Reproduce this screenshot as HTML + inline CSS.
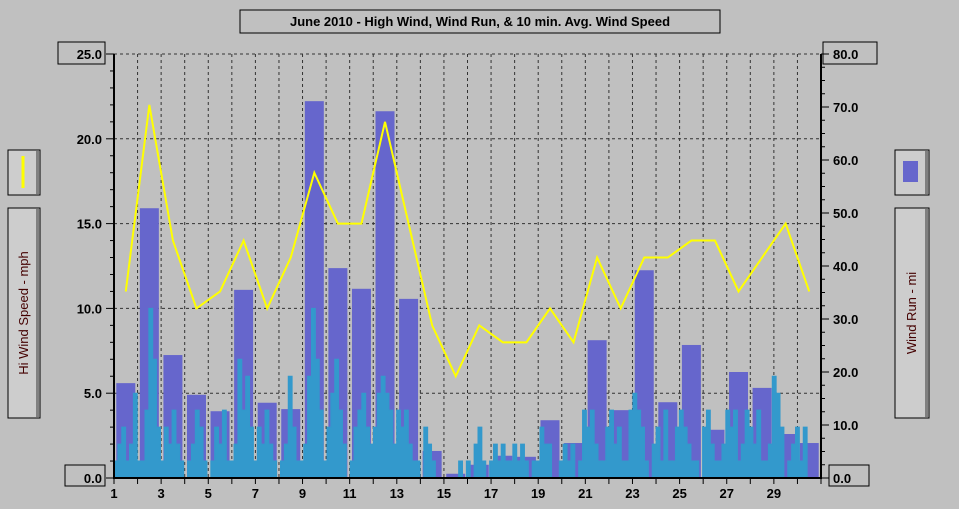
<!DOCTYPE html>
<html><head><meta charset="utf-8"><style>
body{margin:0;background:#c0c0c0;}
svg{display:block;font-family:"Liberation Sans",sans-serif;}
</style></head><body>
<svg id="c" width="959" height="509" xmlns="http://www.w3.org/2000/svg">
<rect width="959" height="509" fill="#c0c0c0"/>
<rect x="240" y="10" width="480" height="23" fill="none" stroke="#000"/>
<text x="480" y="26" text-anchor="middle" font-size="13" font-weight="bold">June 2010 - High Wind, Wind Run, &amp; 10 min. Avg. Wind Speed</text>
<g>
<rect x="8" y="150" width="32" height="45" fill="#cdcdcd" stroke="#000"/><rect x="36" y="151" width="3" height="43" fill="#808080"/>
<line x1="23" y1="156" x2="23" y2="188" stroke="#ff0" stroke-width="3"/>
<rect x="8" y="208" width="32" height="210" fill="#cdcdcd" stroke="#000"/><rect x="36" y="209" width="3" height="208" fill="#808080"/>
<text transform="translate(28,313) rotate(-90)" text-anchor="middle" font-size="13" fill="#400">Hi Wind Speed - mph</text>
</g>
<g>
<rect x="895" y="150" width="34" height="45" fill="#cdcdcd" stroke="#000"/><rect x="925" y="151" width="3" height="43" fill="#808080"/>
<rect x="903" y="161" width="15" height="21" fill="#6666cc"/>
<rect x="895" y="208" width="34" height="210" fill="#cdcdcd" stroke="#000"/><rect x="925" y="209" width="3" height="208" fill="#808080"/>
<text transform="translate(916,313) rotate(-90)" text-anchor="middle" font-size="13" fill="#400">Wind Run - mi</text>
</g>
<rect x="58" y="42" width="47" height="22" fill="none" stroke="#000"/>
<rect x="65" y="465" width="40" height="21" fill="none" stroke="#000"/>
<rect x="823" y="42" width="54" height="22" fill="none" stroke="#000"/>
<rect x="829" y="465" width="40" height="21" fill="none" stroke="#000"/>
<g id="grid"></g><g id="bars"></g><g id="avg"></g><g id="hi"></g><g id="axes"></g>
</svg>
<script>
const days=[1,2,3,4,5,6,7,8,9,10,11,12,13,14,15,16,17,18,19,20,21,22,23,24,25,26,27,28,29,30];
const windRun=[17.9,50.9,23.2,15.7,12.6,35.5,14.2,13.0,71.1,39.6,35.7,69.2,33.8,5.1,0.8,2.5,4.2,4.0,10.9,6.6,26.0,12.8,39.2,14.3,25.1,9.1,20.0,17.0,8.3,6.6];
const hiWind=[11,22,14,10,11,14,10,13,18,15,15,21,15,9,6,9,8,8,10,8,13,10,13,13,14,14,11,13,15,11];
const avgWind=[1,2,3,1,2,5, 1,1,4,10,7,3, 1,3,2,4,2,1, 0,1,2,4,3,1, 0,1,3,2,4,1, 1,2,7,4,6,3, 1,3,2,4,2,1, 0,1,2,6,3,1, 1,2,6,10,7,4, 1,3,5,7,4,2, 0,1,3,4,5,3, 2,3,5,6,5,4, 2,4,3,4,2,1, 1,0,3,2,1,0, 0,0,0,0,0,1, 0,1,0,2,3,1, 0,1,2,1,2,1, 1,2,1,2,1,0, 1,1,3,2,2,0, 0,1,2,1,2,0, 1,4,3,4,2,1, 1,3,4,2,3,1, 1,4,5,4,3,1, 0,2,3,1,4,1, 1,3,4,3,2,1, 1,0,3,4,2,1, 1,2,4,3,4,1, 2,4,3,2,4,1, 1,2,6,5,3,0, 1,2,3,1,3,0];
const leftTicks=["0.0","5.0","10.0","15.0","20.0","25.0"];
const rightTicks=["0.0","10.0","20.0","30.0","40.0","50.0","60.0","70.0","80.0"];
const X0=114,X1=821,Y0=478,Y1=54;
const xs=d=>X0+(d-1)*(X1-X0)/30;
const yL=v=>Y0-v*(Y0-Y1)/25;
const yR=v=>Y0-v*(Y0-Y1)/80;
const NS="http://www.w3.org/2000/svg";
function mk(t,a,p){const e=document.createElementNS(NS,t);for(const k in a)e.setAttribute(k,a[k]);document.getElementById(p).appendChild(e);return e;}
for(let d=2;d<=30;d++){const g=mk('line',{x1:xs(d),x2:xs(d),y1:Y1,y2:Y0,stroke:'#333','stroke-dasharray':'3,3'},'grid');

}
leftTicks.forEach((t,i)=>{if(i>0){const g=mk('line',{x1:X0,x2:X1,y1:yL(+t),y2:yL(+t),stroke:'#333','stroke-dasharray':'3,3'},'grid');

}});
windRun.forEach((v,i)=>{const c=xs(days[i])+(X1-X0)/60;const b=mk('rect',{x:c-9.5,y:yR(v),width:19,height:Y0-yR(v),fill:'#6666cc'},'bars');

});
let n=avgWind.length,dx=(X1-X0-10)/n,p='M'+X0+','+Y0;
avgWind.forEach((v,i)=>{const x=X0+i*dx;p+=' L'+x+','+yL(v)+' L'+(x+dx)+','+yL(v);});
p+=' L'+(X0+n*dx)+','+Y0+' Z';
const a=mk('path',{d:p,fill:'#3399cc',stroke:'#3399cc','stroke-width':1},'avg');


const pts=hiWind.map((v,i)=>(xs(days[i])+(X1-X0)/60)+','+yL(v)).join(' ');
const l=mk('polyline',{points:pts,fill:'none',stroke:'#ffff00','stroke-width':2},'hi');


mk('line',{x1:X0,x2:X0,y1:Y1,y2:Y0+1,stroke:'#000','stroke-width':2},'axes');
mk('line',{x1:X1,x2:X1,y1:Y1,y2:Y0+1,stroke:'#000','stroke-width':2},'axes');
mk('line',{x1:X0,x2:X1,y1:Y0,y2:Y0,stroke:'#000','stroke-width':2},'axes');
for(let v=0;v<=25;v++)mk('line',{x1:X0-(v%5?4:8),x2:X0,y1:yL(v),y2:yL(v),stroke:'#000'},'axes');
for(let v=0;v<=80;v+=2.5)mk('line',{x1:X1,x2:X1+(v%10?4:8),y1:yR(v),y2:yR(v),stroke:'#000'},'axes');
leftTicks.forEach(t=>{const e=mk('text',{x:102,y:yL(+t)+5,'text-anchor':'end','font-size':13,'font-weight':'bold'},'axes');e.textContent=t;

});
rightTicks.forEach(t=>{const e=mk('text',{x:833,y:yR(+t)+5,'font-size':13,'font-weight':'bold'},'axes');e.textContent=t;

});
for(let d=1;d<=31;d++){mk('line',{x1:xs(d),x2:xs(d),y1:Y0,y2:Y0+6,stroke:'#000'},'axes');
if(d%2&&d<30){const e=mk('text',{x:xs(d),y:Y0+20,'text-anchor':'middle','font-size':13,'font-weight':'bold'},'axes');e.textContent=d;

}}
</script>
</body></html>
